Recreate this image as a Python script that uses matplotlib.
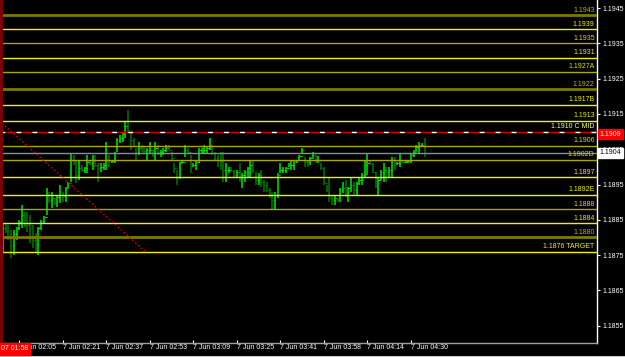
import matplotlib
matplotlib.use("Agg")
import matplotlib.pyplot as plt
import matplotlib.transforms as mtransforms
import numpy as np

# M1 bars, 7 Jun 01:59 - 04:35
high = [
    1.18841, 1.18841, 1.18835, 1.18821, 1.18821, 1.18830, 1.18849, 1.18892, 1.18872, 1.18872,
    1.18864, 1.18835, 1.18812, 1.18830, 1.18849, 1.18861, 1.18940, 1.18929, 1.18929, 1.18912,
    1.18920, 1.18949, 1.18929, 1.18943, 1.18957, 1.19039, 1.19034, 1.19019, 1.19019, 1.19005,
    1.19000, 1.19034, 1.19019, 1.19034, 1.19034, 1.19011, 1.19011, 1.19011, 1.19070, 1.19034,
    1.19019, 1.19042, 1.19082, 1.19090, 1.19099, 1.19127, 1.19161, 1.19099, 1.19082, 1.19053,
    1.19070, 1.19062, 1.19056, 1.19053, 1.19070, 1.19048, 1.19070, 1.19062, 1.19048, 1.19053,
    1.19062, 1.19062, 1.19042, 1.19011, 1.18991, 1.19014, 1.19019, 1.19062, 1.19053, 1.19034,
    1.19011, 1.19019, 1.19053, 1.19053, 1.19062, 1.19056, 1.19082, 1.19062, 1.19042, 1.19034,
    1.19042, 1.19042, 1.19011, 1.19000, 1.19000, 1.18991, 1.18991, 1.19011, 1.18983, 1.18991,
    1.19000, 1.19019, 1.19019, 1.18985, 1.18983, 1.18991, 1.18963, 1.18957, 1.18940, 1.18929,
    1.18929, 1.18983, 1.19011, 1.19000, 1.19000, 1.19011, 1.19019, 1.19019, 1.19019, 1.19034,
    1.19053, 1.19028, 1.19019, 1.19028, 1.19042, 1.19034, 1.19031, 1.19011, 1.19000, 1.18949,
    1.18968, 1.18920, 1.18920, 1.18912, 1.18940, 1.18957, 1.18963, 1.18943, 1.18968, 1.18957,
    1.18957, 1.18968, 1.18983, 1.19019, 1.19039, 1.19019, 1.19011, 1.18983, 1.18971, 1.18991,
    1.19011, 1.19000, 1.19000, 1.19028, 1.19028, 1.19014, 1.19039, 1.19019, 1.19019, 1.19019,
    1.19039, 1.19048, 1.19062, 1.19070, 1.19068, 1.19082,
]
low = [
    1.18759, 1.18812, 1.18793, 1.18742, 1.18750, 1.18793, 1.18821, 1.18827, 1.18830, 1.18815,
    1.18784, 1.18770, 1.18759, 1.18750, 1.18821, 1.18841, 1.18864, 1.18898, 1.18883, 1.18892,
    1.18886, 1.18898, 1.18900, 1.18900, 1.18940, 1.18957, 1.19005, 1.18954, 1.18963, 1.18985,
    1.18983, 1.18983, 1.19005, 1.18991, 1.19000, 1.18957, 1.18985, 1.18991, 1.18991, 1.19000,
    1.19011, 1.19011, 1.19042, 1.19068, 1.19070, 1.19082, 1.19099, 1.19048, 1.19056, 1.19019,
    1.19034, 1.19042, 1.19039, 1.19019, 1.19039, 1.19028, 1.19019, 1.19034, 1.19028, 1.19034,
    1.19042, 1.19048, 1.19019, 1.18983, 1.18949, 1.18968, 1.19011, 1.19028, 1.19039, 1.18983,
    1.19000, 1.18991, 1.19011, 1.19039, 1.19039, 1.19039, 1.19048, 1.19034, 1.19019, 1.19000,
    1.18991, 1.18957, 1.18957, 1.18983, 1.18985, 1.18968, 1.18968, 1.18957, 1.18940, 1.18957,
    1.18968, 1.18971, 1.18983, 1.18949, 1.18949, 1.18943, 1.18929, 1.18929, 1.18912, 1.18878,
    1.18878, 1.18912, 1.18983, 1.18983, 1.18983, 1.19000, 1.18991, 1.18991, 1.19011, 1.19019,
    1.19039, 1.19000, 1.19000, 1.19005, 1.19025, 1.19011, 1.19011, 1.18991, 1.18949, 1.18929,
    1.18900, 1.18892, 1.18892, 1.18900, 1.18900, 1.18926, 1.18915, 1.18900, 1.18929, 1.18920,
    1.18920, 1.18949, 1.18949, 1.18968, 1.18977, 1.19005, 1.18983, 1.18940, 1.18920, 1.18963,
    1.18957, 1.18957, 1.18971, 1.18968, 1.18991, 1.19005, 1.19000, 1.19011, 1.19011, 1.19011,
    1.19011, 1.19028, 1.19042, 1.19039, 1.19056, 1.19028,
]
close = [
    1.18827, 1.18821, 1.18804, 1.18778, 1.18810, 1.18827, 1.18844, 1.18864, 1.18849, 1.18835,
    1.18798, 1.18793, 1.18778, 1.18827, 1.18846, 1.18858, 1.18920, 1.18906, 1.18912, 1.18900,
    1.18915, 1.18920, 1.18917, 1.18940, 1.18954, 1.19019, 1.19014, 1.18977, 1.18997, 1.18991,
    1.18997, 1.19014, 1.19011, 1.19019, 1.19005, 1.18997, 1.19000, 1.19005, 1.19019, 1.19014,
    1.19017, 1.19039, 1.19076, 1.19082, 1.19093, 1.19116, 1.19104, 1.19076, 1.19059, 1.19042,
    1.19053, 1.19048, 1.19045, 1.19048, 1.19048, 1.19042, 1.19053, 1.19042, 1.19042, 1.19048,
    1.19053, 1.19048, 1.19025, 1.18997, 1.18968, 1.19011, 1.19014, 1.19048, 1.19042, 1.19005,
    1.19005, 1.19014, 1.19048, 1.19048, 1.19048, 1.19053, 1.19062, 1.19039, 1.19025, 1.19019,
    1.19005, 1.18991, 1.18991, 1.18991, 1.18988, 1.18977, 1.18985, 1.18968, 1.18977, 1.18985,
    1.18997, 1.19005, 1.18991, 1.18963, 1.18977, 1.18957, 1.18949, 1.18934, 1.18920, 1.18906,
    1.18920, 1.18977, 1.18991, 1.18991, 1.18997, 1.19005, 1.19005, 1.19014, 1.19019, 1.19031,
    1.19048, 1.19014, 1.19011, 1.19025, 1.19034, 1.19019, 1.19019, 1.18997, 1.18954, 1.18940,
    1.18912, 1.18906, 1.18912, 1.18906, 1.18934, 1.18940, 1.18929, 1.18940, 1.18949, 1.18934,
    1.18954, 1.18963, 1.18977, 1.19005, 1.19011, 1.19008, 1.18985, 1.18954, 1.18963, 1.18985,
    1.18991, 1.18985, 1.18991, 1.19019, 1.19011, 1.19011, 1.19019, 1.19014, 1.19017, 1.19017,
    1.19034, 1.19042, 1.19056, 1.19062, 1.19062, 1.19040,
]
first_open = 1.18780

time_ticks = [6, 22, 38, 54, 70, 86, 102, 118, 134, 150]
time_labels = ["7 Jun 02:05", "7 Jun 02:21", "7 Jun 02:37", "7 Jun 02:53", "7 Jun 03:09",
               "7 Jun 03:25", "7 Jun 03:41", "7 Jun 03:58", "7 Jun 04:14", "7 Jun 04:30"]

price_ticks = [1.1945, 1.1935, 1.1925, 1.1915, 1.1905, 1.1895, 1.1885, 1.1875, 1.1865, 1.1855]

level_prices = [1.1943, 1.1939, 1.1935, 1.1931, 1.1927, 1.1922, 1.19175, 1.1913, 1.1910,
                1.1906, 1.1902, 1.1897, 1.1892, 1.1888, 1.1884, 1.1880, 1.1876]
level_labels = ["1.1943", "1.1939", "1.1935", "1.1931", "1.1927A", "1.1922", "1.1917B", "1.1913",
                "1.1910 C MID", "1.1906", "1.1902D", "1.1897", "1.1892E", "1.1888", "1.1884",
                "1.1880", "1.1876 TARGET"]
level_kind = ["dark", "bright", "olive", "bright", "olive", "dark", "bright", "bright", "mid",
              "olive", "olive", "bright", "bright", "olive", "bright", "dark", "bright"]

trend_idx = [-0.4, 52.2]
trend_price = [1.19124, 1.18761]

bid_price = 1.1904
ask_price = 1.19093
first_time = "07 01:58"

STYLES = {
    "bright": dict(color="#f0f000", lw=1.0, text="#f0f000"),
    "olive": dict(color="#a8a800", lw=1.0, text="#dede00"),
    "dark": dict(color="#7a7a00", lw=2.0, text="#b8b800"),
    "mid": dict(color="#cc0000", lw=1.0, text="#ffff60"),
}
BULL = "#00e600"
BEAR = "#007800"
FONT = "Liberation Sans"
FS = 5.0


def main() -> None:
    n = len(close)
    idx = np.arange(n)
    opens = np.r_[first_open, close[:-1]]
    colors = [BULL if c >= o else BEAR for o, c in zip(opens, close)]

    fig = plt.figure(figsize=(6.25, 3.57), dpi=100, facecolor="black")
    ax = fig.add_axes([0, 14 / 357, 597 / 625, 343 / 357], facecolor="black")
    ax.set_xlim(-1.1, 218.4)
    ax.set_ylim(1.18501, 1.19473)

    # bars
    ax.vlines(idx, low, high, colors=colors, lw=1.1, zorder=2)
    ax.hlines(opens, idx - 0.45, idx, colors=colors, lw=0.8, zorder=2)
    ax.hlines(close, idx, idx + 0.45, colors=colors, lw=0.8, zorder=2)

    # horizontal levels
    label_tr = mtransforms.offset_copy(
        mtransforms.blended_transform_factory(ax.transAxes, ax.transData),
        fig=fig, x=0, y=1.2, units="points")
    for price, label, kind in zip(level_prices, level_labels, level_kind):
        st = STYLES[kind]
        ax.axhline(price, color=st["color"], lw=st["lw"], zorder=3)
        if kind == "mid":
            ax.axhline(price, color="white", lw=1.0, dashes=(3.5, 8), zorder=3)
        ax.text(0.996, price, label, transform=label_tr, ha="right", va="bottom",
                color=st["text"], fontsize=FS, family=FONT, zorder=5)

    # current price line
    ax.axhline(bid_price, color="#8090a4", lw=1.0, zorder=3)

    # trend line
    ax.plot(trend_idx, trend_price, color="#d00000", lw=1.0, ls=(0, (1.2, 1.6)), zorder=4)

    # left marker
    ax.axvline(-0.8, color="#7a0000", lw=2.2, zorder=4)

    # axes
    for side in ("left", "top"):
        ax.spines[side].set_visible(False)
    ax.spines["right"].set_color("white")
    ax.spines["right"].set_linewidth(1.0)
    ax.spines["bottom"].set_color("#a0a0a0")
    ax.spines["bottom"].set_linewidth(1.0)

    ax.yaxis.tick_right()
    ax.set_yticks(price_ticks)
    ax.set_yticklabels([f"{p:.4f}" for p in price_ticks])
    ax.tick_params(axis="y", colors="white", labelcolor="white", length=2.5, width=0.8,
                   labelsize=FS, pad=1.5)
    ax.set_xticks(time_ticks)
    ax.set_xticklabels(time_labels)
    ax.tick_params(axis="x", colors="white", labelcolor="white", length=2.5, width=0.8,
                   labelsize=FS, pad=0.5, direction="in")
    for lab in ax.get_xticklabels() + ax.get_yticklabels():
        lab.set_family(FONT)
    for lab in ax.get_xticklabels():
        lab.set_ha("left")
        lab.set_va("top")

    # price boxes on the right axis
    box_tr = mtransforms.blended_transform_factory(ax.transAxes, ax.transData)
    ax.text(1.004, ask_price, f"{ask_price:.4f}", transform=box_tr, ha="left", va="center",
            color="white", fontsize=FS, family=FONT, clip_on=False, zorder=10,
            bbox=dict(boxstyle="square,pad=0.25", fc="#ff0000", ec="#ff0000"))
    ax.text(1.004, bid_price, f"{bid_price:.4f}", transform=box_tr, ha="left", va="center",
            color="black", fontsize=FS, family=FONT, clip_on=False, zorder=10,
            bbox=dict(boxstyle="square,pad=0.25", fc="white", ec="white"))

    # time box bottom-left
    fig.text(0.001, 1 - 349 / 357, first_time, ha="left", va="center", color="white",
             fontsize=FS, family=FONT, zorder=10,
             bbox=dict(boxstyle="square,pad=0.3", fc="#ff0000", ec="#ff0000"))

    # window border at the bottom
    fig.add_artist(plt.Line2D([0, 1], [1.5 / 357, 1.5 / 357], color="#c8c8c8", lw=0.8))

    fig.savefig("out.png", dpi=100, facecolor="black")
    plt.close(fig)


if __name__ == "__main__":
    main()
